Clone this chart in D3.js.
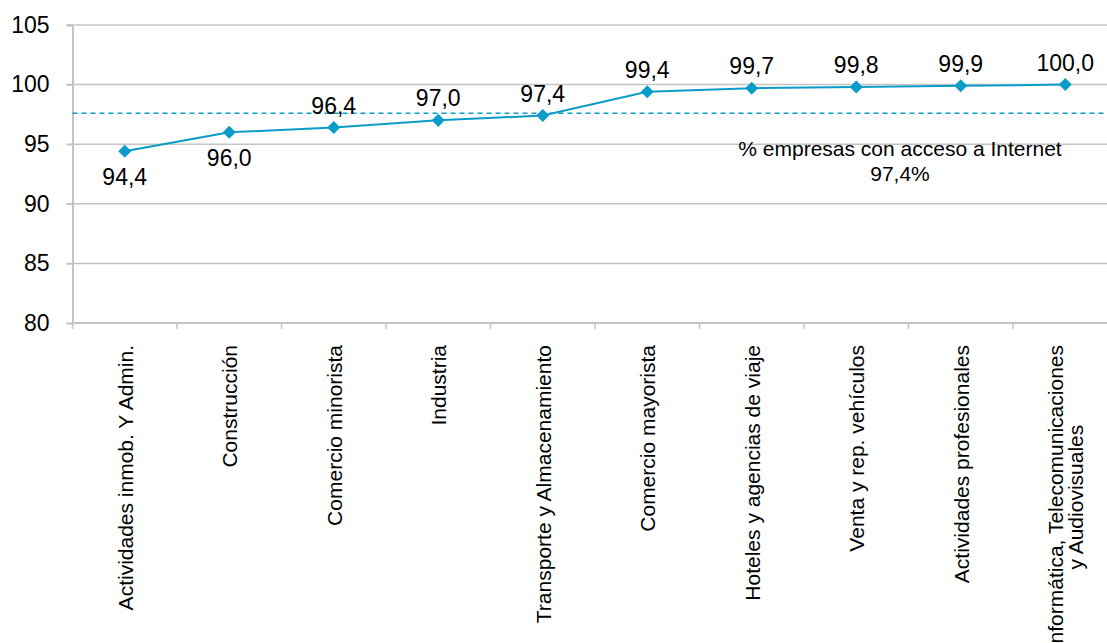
<!DOCTYPE html>
<html><head><meta charset="utf-8">
<script src="https://cdn.jsdelivr.net/npm/d3@7"></script>
<style>
html,body{margin:0;padding:0;background:#fff;}
svg{display:block;font-family:"Liberation Sans",Arial,sans-serif;}
</style></head>
<body><svg id="c" width="1107" height="643"></svg>
<script>
const categories = [
  ["Actividades inmob.  Y Admin."],
  ["Construcción"],
  ["Comercio minorista"],
  ["Industria"],
  ["Transporte y Almacenamiento"],
  ["Comercio mayorista"],
  ["Hoteles y agencias de viaje"],
  ["Venta y rep. vehículos"],
  ["Actividades profesionales"],
  ["Informática, Telecomunicaciones", "y Audiovisuales"]
];
const values = [94.4, 96.0, 96.4, 97.0, 97.4, 99.4, 99.7, 99.8, 99.9, 100.0];
const valueLabels = ["94,4","96,0","96,4","97,0","97,4","99,4","99,7","99,8","99,9","100,0"];
const labelBelow = [true, true, false, false, false, false, false, false, false, false];
const yTicks = [80, 85, 90, 95, 100, 105];
const avgValue = 97.6;
const avgLabel = ["% empresas con acceso a Internet", "97,4%"];

(function(){
const color = "#0a9cc9";
const grid = "#c4c4c4";
const svg = d3.select("#c");
const left = 72.5, bandW = 104.5, plotTop = 25, plotBottom = 323;

const x = d3.scaleBand().domain(d3.range(categories.length)).range([left, left + bandW*categories.length]);
const y = d3.scaleLinear().domain([80, 105]).range([plotBottom, plotTop]);

// gridlines
svg.append("g").selectAll("line").data(yTicks.filter(d => d > 80)).join("line")
  .attr("x1", left - 6).attr("x2", 1107)
  .attr("y1", d => y(d)).attr("y2", d => y(d))
  .attr("stroke", grid).attr("stroke-width", 1.5);

// y axis
const yAxis = svg.append("g").attr("transform", `translate(${left},0)`)
  .call(d3.axisLeft(y).tickValues(yTicks).tickSize(6).tickPadding(17).tickFormat(d3.format("d")));
yAxis.select(".domain").attr("stroke", grid).attr("stroke-width", 2);
yAxis.selectAll(".tick line").attr("stroke", grid).attr("stroke-width", 1.5);
yAxis.selectAll("text").attr("font-size", 23).attr("fill", "#000").attr("font-family", "Liberation Sans, Arial, sans-serif");

// x axis
const xAxis = svg.append("g").attr("transform", `translate(0,${plotBottom})`)
  .call(d3.axisBottom(x).tickSize(0).tickFormat(""));
xAxis.select(".domain").attr("stroke", grid).attr("stroke-width", 2).attr("d", `M${left},0H1107`);
svg.append("g").selectAll("line").data(d3.range(categories.length + 1)).join("line")
  .attr("x1", i => left + i*bandW).attr("x2", i => left + i*bandW)
  .attr("y1", plotBottom).attr("y2", plotBottom + 6)
  .attr("stroke", grid).attr("stroke-width", 1.5);

// category labels (rotated)
const labelTop = 345;
categories.forEach((lines, i) => {
  const cx = x(i) + x.bandwidth()/2;
  const g = svg.append("g").attr("font-size", 21).attr("fill", "#000");
  const lh = 20;
  const texts = lines.map((t, k) => g.append("text").text(t));
  const maxLen = d3.max(texts, t => t.node().getComputedTextLength());
  const n = lines.length;
  texts.forEach((t, k) => {
    const off = (k - (n - 1)/2) * lh + 8;
    t.attr("text-anchor", "middle")
     .attr("transform", `translate(${cx + off},${labelTop + maxLen/2}) rotate(-90)`);
  });
});

// average dashed line
svg.append("line")
  .attr("x1", left).attr("x2", 1107)
  .attr("y1", y(avgValue)).attr("y2", y(avgValue))
  .attr("stroke", color).attr("stroke-width", 1.5).attr("stroke-dasharray", "5,4");

svg.append("g").selectAll("text").data(avgLabel).join("text")
  .attr("x", 900).attr("y", (d, i) => 156 + i*25)
  .attr("text-anchor", "middle").attr("font-size", 21).attr("fill", "#000")
  .text(d => d);

// line
const cxOf = i => x(i) + x.bandwidth()/2;
svg.append("path").datum(values)
  .attr("d", d3.line().x((d, i) => cxOf(i)).y(d => y(d)))
  .attr("fill", "none").attr("stroke", color).attr("stroke-width", 2);

// markers
svg.append("g").selectAll("path").data(values).join("path")
  .attr("d", d3.symbol().type(d3.symbolSquare).size(85))
  .attr("transform", (d, i) => `translate(${cxOf(i)},${y(d)}) rotate(45)`)
  .attr("fill", color);

// data labels
svg.append("g").selectAll("text").data(values).join("text")
  .attr("x", (d, i) => cxOf(i))
  .attr("y", (d, i) => labelBelow[i] ? y(d) + 34 : y(d) - 14)
  .attr("text-anchor", "middle").attr("font-size", 23).attr("fill", "#000")
  .text((d, i) => valueLabels[i]);
})();
</script>
</body></html>
